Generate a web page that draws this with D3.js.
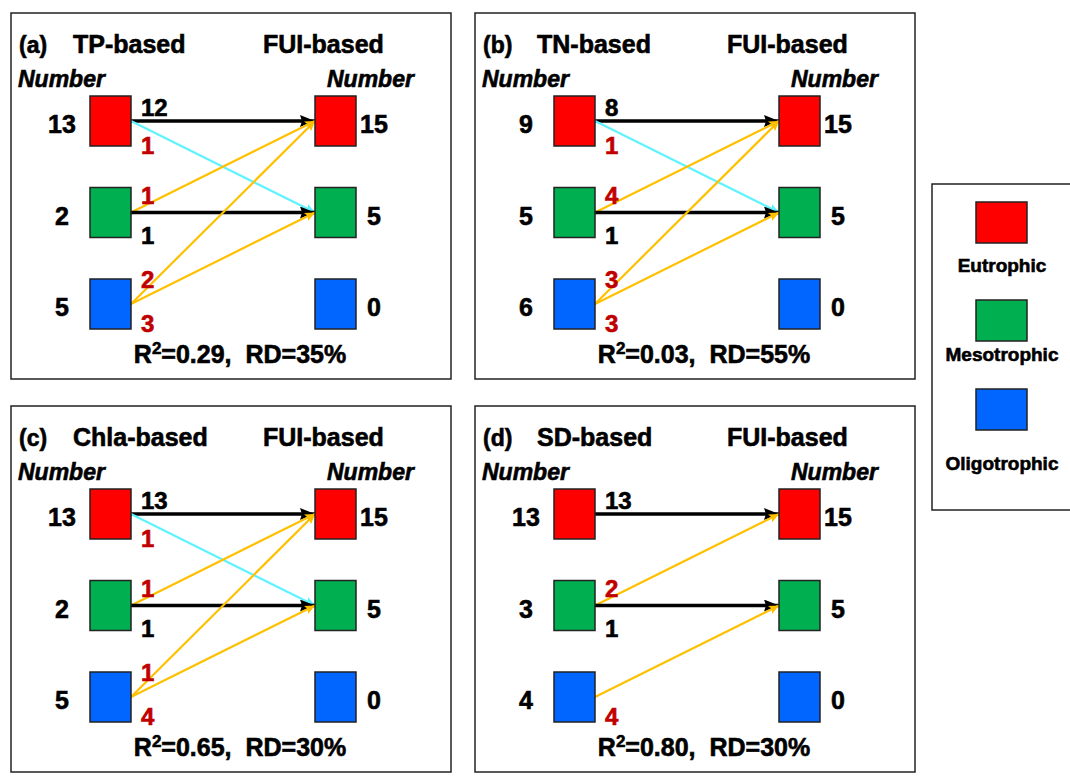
<!DOCTYPE html>
<html>
<head>
<meta charset="utf-8">
<script src="https://cdn.jsdelivr.net/npm/d3@7"></script>
<style>
  body { margin: 0; background: #fff; }
  svg text { font-family: Arial, "Liberation Sans", sans-serif; font-weight: bold; white-space: pre;
             stroke: #000; stroke-width: 0.6px; }
</style>
</head>
<body>
<svg id="chart" width="1070" height="780"></svg>
<script>
// trophic classes (rows, top to bottom)
var classes = ["Eutrophic", "Mesotrophic", "Oligotrophic"];

// one entry per panel
var panelLetters = ["(a)", "(b)", "(c)", "(d)"];
var panelNames = ["TP-based", "TN-based", "Chla-based", "SD-based"];
var refName = "FUI-based";
var leftCounts = [[13, 2, 5], [9, 5, 6], [13, 2, 5], [13, 3, 4]];
var rightCounts = [[15, 5, 0], [15, 5, 0], [15, 5, 0], [15, 5, 0]];
var r2Values = ["0.29", "0.03", "0.65", "0.80"];
var rdValues = ["35", "55", "30", "30"];

// transitions per panel: [from class, to class, count]
var transitions = [
    [[0, 0, 12], [0, 1, 1], [1, 0, 1], [1, 1, 1], [2, 0, 2], [2, 1, 3]],
    [[0, 0, 8], [0, 1, 1], [1, 0, 4], [1, 1, 1], [2, 0, 3], [2, 1, 3]],
    [[0, 0, 13], [0, 1, 1], [1, 0, 1], [1, 1, 1], [2, 0, 1], [2, 1, 4]],
    [[0, 0, 13], [1, 0, 2], [1, 1, 1], [2, 1, 4]]
];

// colours
var classColor = d3.scaleOrdinal().domain(classes).range(["#ff0000", "#00b050", "#0066ff"]);
var arrowColor = {same: "#000000", up: "#ffc000", down: "#5ff3ff"};
var changeLabel = "#c00000";

var svg = d3.select("#chart");

// panel grid
var panelW = 440, panelH = 366;
var panelX = d3.scaleOrdinal().domain([0, 1]).range([11, 475]);
var panelY = d3.scaleOrdinal().domain([0, 1]).range([13, 406]);

// inside a panel
var boxW = 41, boxH = 50;
var rowY = d3.scalePoint().domain([0, 1, 2]).range([108, 291]);
var leftBoxX = 79, rightBoxX = 304;

// arrow heads
var defs = svg.append("defs");
Object.keys(arrowColor).forEach(function(k) {
    var big = k === "same";
    var len = big ? 15 : 10, wid = big ? 12 : 9;
    defs.append("marker")
        .attr("id", "arrow-" + k)
        .attr("markerUnits", "userSpaceOnUse")
        .attr("viewBox", "0 0 " + len + " " + wid)
        .attr("markerWidth", len)
        .attr("markerHeight", wid)
        .attr("refX", len)
        .attr("refY", wid / 2)
        .attr("orient", "auto")
        .append("path")
        .attr("d", "M0,0L" + len + "," + (wid / 2) + "L0," + wid + "L2," + (wid / 2) + "Z")
        .attr("fill", arrowColor[k]);
});

// label offsets from box centre, by row
var labelDy = {up: [-5, -9, -16], down: [33, 31, 28]};

panelLetters.forEach(function(letter, p) {
    var g = svg.append("g")
        .attr("transform", "translate(" + panelX(p % 2) + "," + panelY(Math.floor(p / 2)) + ")");

    g.append("rect")
        .attr("width", panelW).attr("height", panelH)
        .attr("fill", "none").attr("stroke", "#222").attr("stroke-width", 1.5);

    g.append("text").attr("x", 8).attr("y", 40).attr("font-size", 23).text(letter);
    g.append("text").attr("x", 62).attr("y", 40).attr("font-size", 25).text(panelNames[p]);
    g.append("text").attr("x", 252).attr("y", 40).attr("font-size", 25).text(refName);

    g.append("text").attr("x", 7).attr("y", 74).attr("font-size", 23)
        .attr("font-style", "italic").text("Number");
    g.append("text").attr("x", 316).attr("y", 74).attr("font-size", 23)
        .attr("font-style", "italic").text("Number");

    // arrows
    var tr = transitions[p].map(function(d) {
        var kind = d[0] === d[1] ? "same" : (d[1] < d[0] ? "up" : "down");
        return {from: d[0], to: d[1], n: d[2], kind: kind};
    });

    g.selectAll(".arrow")
        .data(tr).enter()
        .append("line")
        .attr("class", "arrow")
        .attr("x1", leftBoxX + boxW)
        .attr("y1", function(d) { return rowY(d.from); })
        .attr("x2", rightBoxX)
        .attr("y2", function(d) { return rowY(d.to); })
        .attr("stroke", function(d) { return arrowColor[d.kind]; })
        .attr("stroke-width", function(d) { return d.kind === "same" ? 3.5 : 2.2; })
        .attr("marker-end", function(d) { return "url(#arrow-" + d.kind + ")"; });

    // boxes, both sides
    [leftBoxX, rightBoxX].forEach(function(bx) {
        g.selectAll(null)
            .data(classes).enter()
            .append("rect")
            .attr("x", bx)
            .attr("y", function(d, i) { return rowY(i) - boxH / 2; })
            .attr("width", boxW).attr("height", boxH)
            .attr("fill", function(d) { return classColor(d); })
            .attr("stroke", "#222").attr("stroke-width", 1.5);
    });

    // counts
    g.selectAll(".lcount")
        .data(leftCounts[p]).enter()
        .append("text")
        .attr("x", 51)
        .attr("y", function(d, i) { return rowY(i) + 12; })
        .attr("text-anchor", "middle").attr("font-size", 25)
        .text(function(d) { return d; });

    g.selectAll(".rcount")
        .data(rightCounts[p]).enter()
        .append("text")
        .attr("x", 363)
        .attr("y", function(d, i) { return rowY(i) + 12; })
        .attr("text-anchor", "middle").attr("font-size", 25)
        .text(function(d) { return d; });

    // transition numbers
    g.selectAll(".tlabel")
        .data(tr).enter()
        .append("text")
        .attr("x", leftBoxX + boxW + 10)
        .attr("y", function(d) {
            var slot = d.to === 0 ? "up" : "down";
            return rowY(d.from) + labelDy[slot][d.from];
        })
        .attr("font-size", 24)
        .attr("fill", function(d) { return d.kind === "same" ? "#000" : changeLabel; })
        .style("stroke", function(d) { return d.kind === "same" ? "#000" : changeLabel; })
        .text(function(d) { return d.n; });

    // statistics line
    var st = g.append("text").attr("x", 229).attr("y", 350)
        .attr("text-anchor", "middle").attr("font-size", 25);
    st.append("tspan").text("R");
    st.append("tspan").attr("font-size", 17).attr("dy", -9).text("2");
    st.append("tspan").attr("dy", 9).text("=" + r2Values[p] + ",  RD=" + rdValues[p] + "%");
});

// legend
var leg = svg.append("g").attr("transform", "translate(932,184)");
leg.append("rect").attr("width", 150).attr("height", 326)
    .attr("fill", "none").attr("stroke", "#222").attr("stroke-width", 1.5);

var legBoxY = [18, 116, 205];
var legTextY = [88, 177, 286];
leg.selectAll(".lbox")
    .data(classes).enter()
    .append("rect")
    .attr("x", 44)
    .attr("y", function(d, i) { return legBoxY[i]; })
    .attr("width", 51).attr("height", 41)
    .attr("fill", function(d) { return classColor(d); })
    .attr("stroke", "#222").attr("stroke-width", 1.5);

leg.selectAll(".ltext")
    .data(classes).enter()
    .append("text")
    .attr("x", 70)
    .attr("y", function(d, i) { return legTextY[i]; })
    .attr("text-anchor", "middle").attr("font-size", 19)
    .text(function(d) { return d; });
</script>
</body>
</html>
